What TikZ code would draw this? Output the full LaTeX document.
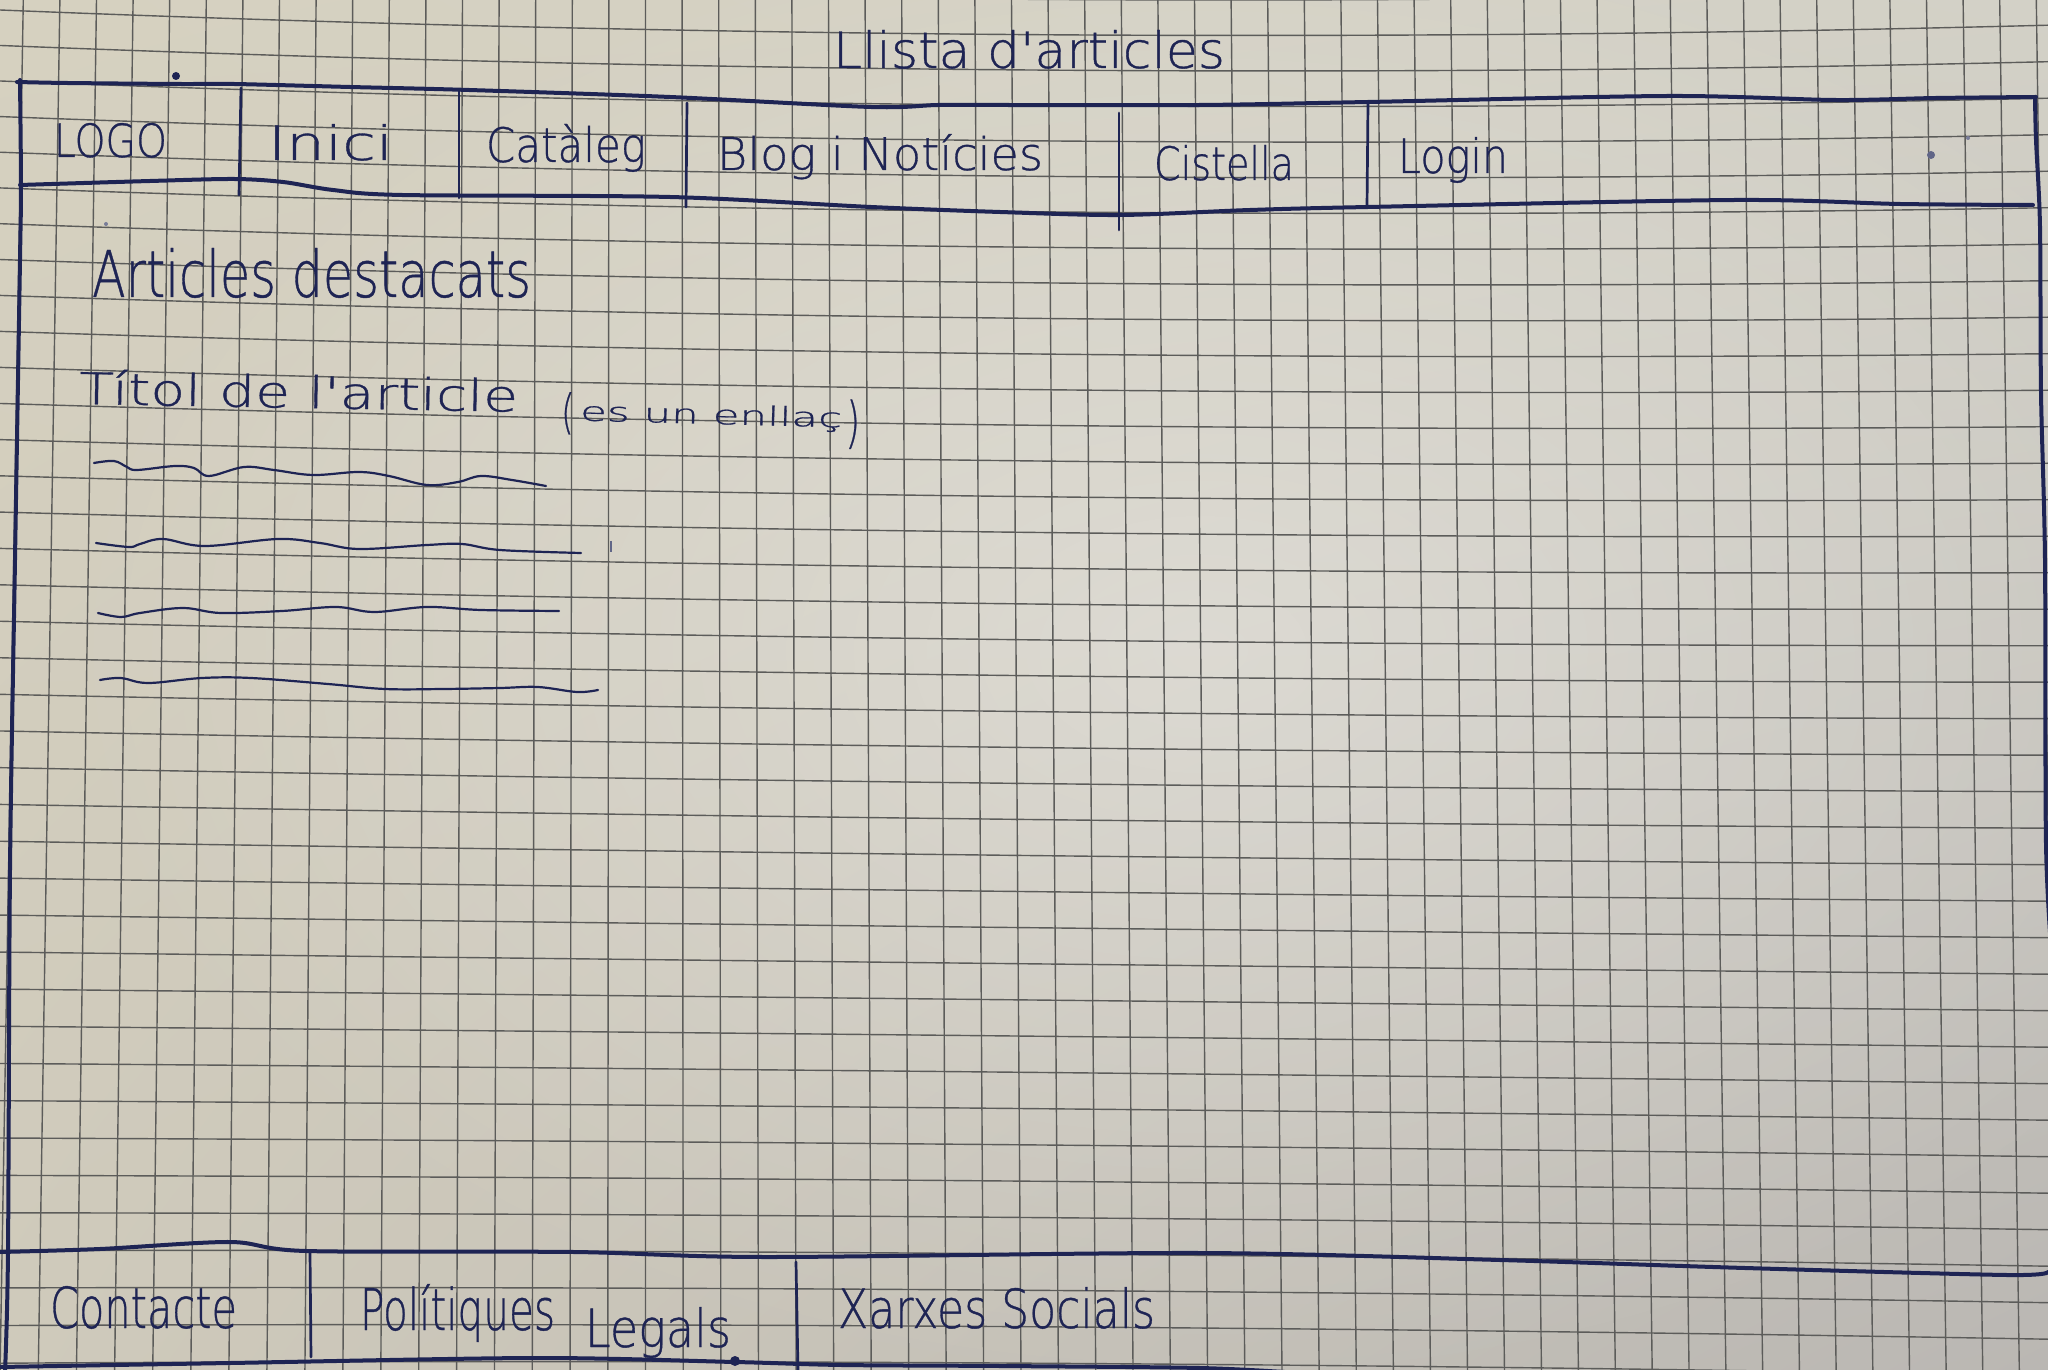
\documentclass[tikz,border=0pt]{standalone}
\usepackage{fontspec}
\usetikzlibrary{shadings,fadings}
\IfFontExistsTF{DejaVu Sans ExtraLight}
  {\newfontfamily\hand{DejaVu Sans ExtraLight}[FakeBold=0.7]}
  {\newfontfamily\hand{DejaVu Sans}}
\newlength\pxu
\setlength\pxu{0.01cm}
% handwritten label: width, height above baseline (in px units), text
\newcommand\hw[3]{\resizebox{#1\pxu}{#2\pxu}{\hand #3}}
\definecolor{ink}{RGB}{30,36,84}
\definecolor{gridc}{RGB}{92,92,90}
\definecolor{paperUL}{RGB}{214,209,192}
\definecolor{paperUR}{RGB}{211,209,199}
\definecolor{paperLL}{RGB}{207,202,187}
\definecolor{paperLR}{RGB}{186,183,179}
\tikzfading[name=glow, inner color=transparent!0, outer color=transparent!100]
\begin{document}
\begin{tikzpicture}[x=0.01cm,y=-0.01cm,
  gridline/.style={draw=gridc, line width=0.014cm},
  pen/.style={draw=ink, line width=0.04cm, line cap=round, line join=round},
  pensep/.style={draw=ink, line width=0.027cm, line cap=round},
  penthin/.style={draw=ink, line width=0.022cm, line cap=round, line join=round},
  txt/.style={inner sep=0pt, outer sep=0pt, text=ink, anchor=base west}]
\useasboundingbox (0,0) rectangle (2048,1370);
\begin{scope}
\clip (0,0) rectangle (2048,1370);

% paper
\shade[upper left=paperUL, upper right=paperUR, lower left=paperLL, lower right=paperLR]
  (0,0) rectangle (2048,1370);
\fill[white, fill opacity=0.32, path fading=glow] (1200,650) ellipse [x radius=1150, y radius=750];

% squared grid (slightly warped sheet)
\foreach \i in {-1,...,37} {
  \pgfmathsetmacro\yl{10+35.43*\i+0.0309*\i*\i}
  \pgfmathsetmacro\yr{25.2+36.5*\i}
  \pgfmathsetmacro\bw{17-0.63*\i}
  \pgfmathsetmacro\cy{(\yl+\yr)/2+2*\bw}
  \pgfmathsetmacro\ca{\yl+2/3*(\cy-\yl)}
  \pgfmathsetmacro\cb{\yr+2/3*(\cy-\yr)}
  \draw[gridline] (0,\yl) .. controls (682.67,\ca) and (1365.33,\cb) .. (2048,\yr);
}
\foreach \k in {0,...,55} {
  \pgfmathsetmacro\xt{23.3+36.6*\k}
  \pgfmathsetmacro\xb{0.085+38.23*\k-0.0155*\k*\k}
  \draw[gridline] (\xt,0) -- (\xb,1370);
}

% page frame
\draw[pen] plot[smooth, tension=0.5] coordinates {(20,80) (21,187) (20,260) (15,560) (10,870) (8,1252) (5,1372)};
\draw[pen] plot[smooth, tension=0.5] coordinates {(2035,97) (2036,140) (2040,227) (2041,393) (2045,560) (2046,844) (2052,960)};

% navigation bar
\draw[pen] plot[smooth, tension=0.5] coordinates {(17,82) (67,83) (180,84) (234,84) (350,87) (469,90) (670,97) (871,107) (938,105) (1000,105) (1200,105) (1368,102) (1668,96) (1835,100) (1936,98) (2036,97)};
\draw[pen] plot[smooth, tension=0.5] coordinates {(20,185) (150,181) (234,179) (283,182) (333,190) (402,195) (670,197) (871,207) (1000,212) (1120,215) (1250,210) (1368,207) (1735,200) (1900,204) (2033,205)};
\draw[pensep] (241,88) -- (239,195);
\draw[pensep] (459,90) -- (459,198);
\draw[pensep] (687,103) -- (686,207);
\draw[pensep] (1119,113) -- (1119,230);
\draw[pensep] (1368,103) -- (1367,207);

% footer
\draw[pen] plot[smooth, tension=0.5] coordinates {(0,1252) (100,1249) (230,1242) (306,1251) (574,1252) (765,1257) (1200,1253) (1500,1260) (1745,1268) (2007,1275) (2048,1272)};
\draw[pen] plot[smooth, tension=0.5] coordinates {(0,1367) (230,1363) (536,1358) (735,1362) (842,1365) (1000,1366) (1200,1368) (1300,1373)};
\fill[ink] (735,1361) circle[radius=5];
\draw[pensep] (310,1252) -- (311,1357);
\draw[pensep] (796,1262) -- (798,1372);

% placeholder text lines
\draw[penthin] plot[smooth, tension=0.6] coordinates {(94,463) (114,461) (127,467) (137,470) (175,466) (194,468) (209,476) (244,467) (274,470) (313,475) (359,472) (389,476) (427,485) (458,482) (481,476) (512,480) (546,486)};
\draw[penthin] plot[smooth, tension=0.6] coordinates {(96,543) (129,547) (140,544) (163,539) (205,546) (278,539) (320,543) (359,549) (427,545) (462,544) (500,550) (581,553)};
\draw[penthin] plot[smooth, tension=0.6] coordinates {(98,613) (121,617) (140,613) (183,608) (221,613) (282,611) (336,607) (374,612) (427,607) (481,610) (559,611)};
\draw[penthin] plot[smooth, tension=0.6] coordinates {(100,680) (121,678) (148,683) (202,678) (251,678) (328,684) (385,689) (443,689) (500,688) (538,687) (577,692) (598,690)};

% stray pen marks
\fill[ink] (176,76) circle[radius=4];
\fill[ink!70] (1931,155) circle[radius=4];
\fill[ink!60] (1968,138) circle[radius=2];
\fill[ink!60] (106,224) circle[radius=2];
\draw[ink!70, line width=0.015cm] (611,541) -- (611,552);

% labels
\node[txt] (title) at (833,68) {\hw{392}{38}{Llista d'articles}};
\node[txt] (logo) at (54,157) {\hw{113}{34}{LOGO}};
\node[txt] (inici) at (268,160) {\hw{125}{36}{Inici}};
\node[txt] (cataleg) at (486,162) {\hw{160}{38}{Catàleg}};
\node[txt] (blog) at (717,170) {\hw{326}{36}{Blog i Notícies}};
\node[txt] (cistella) at (1154,180) {\hw{140}{35}{Cistella}};
\node[txt] (login) at (1398,173) {\hw{110}{36}{Login}};
\node[txt] (artdest) at (92,297) {\hw{439}{49}{Articles destacats}};
\node[txt, rotate=-1] (titol) at (79,404) {\hw{439}{35}{Títol de l'article}};
\node[txt, rotate=-1.5] (enllac) at (561,420)
  {\raisebox{-8\pxu}{\hw{13}{36}{(}}\hspace{6\pxu}\hw{262}{20}{es un enllaç}\hspace{4\pxu}\raisebox{-14\pxu}{\hw{14}{42}{)}}};
\node[txt] (contacte) at (50,1328) {\hw{187}{42}{Contacte}};
\node[txt] (polit) at (360,1330) {\hw{195}{46}{Polítiques}};
\node[txt] (legals) at (585,1347) {\hw{146}{40}{Legals}};
\node[txt] (xarxes) at (838,1328) {\hw{317}{41}{Xarxes Socials}};
\end{scope}
\end{tikzpicture}
\end{document}
